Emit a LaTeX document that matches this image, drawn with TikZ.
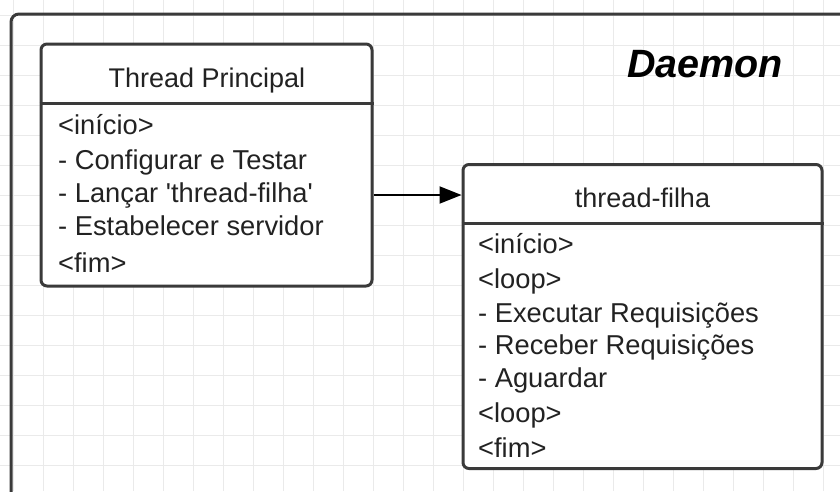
\documentclass[tikz,border=0pt]{standalone}
\usepackage{fontspec}
\setmainfont{Liberation Sans}
\usetikzlibrary{arrows.meta}
\definecolor{gridgray}{HTML}{EAEAEA}
\definecolor{edgegray}{HTML}{3A3A3A}
\definecolor{inkgray}{HTML}{222222}
\tikzset{
  classbox/.style={draw=edgegray, line width=3pt, rounded corners=6pt, fill=white, inner sep=0pt},
  divider/.style={draw=edgegray, line width=3pt},
  boxtitle/.style={font=\fontsize{27}{31}\selectfont, text=inkgray, anchor=base, inner sep=0pt},
  boxline/.style={font=\fontsize{27.3}{31}\selectfont, text=inkgray, anchor=base west, inner sep=0pt},
  link/.style={draw=black, line width=2pt, -{Triangle[length=22pt, width=17pt]}},
}
\begin{document}
\begin{tikzpicture}[x=1pt, y=-1pt]
\useasboundingbox (0,0) rectangle (840,491);
\fill[white] (0,0) rectangle (840,491);
% background grid
\begin{scope}
  \clip (0,0) rectangle (840,491);
  \foreach \gx in {13,43,...,833} \draw[gridgray, line width=1pt] (\gx,0) -- (\gx,491);
  \foreach \gy in {15,45,...,485} \draw[gridgray, line width=1pt] (0,\gy) -- (840,\gy);
  % daemon frame, running off the right and bottom
  \draw[edgegray, line width=3pt, rounded corners=8pt] (11,14) rectangle (870,530);
\end{scope}
\node[font=\bfseries\itshape\fontsize{39.5}{45}\selectfont, anchor=base west, inner sep=0pt] (daemon) at (627,77) {Daemon};

% Thread Principal
\node[classbox, minimum width=331pt, minimum height=242pt] (main) at (206.5,165) {};
\draw[divider] (main.west |- 0,103) -- (main.east |- 0,103);
\node[boxtitle] (maint) at (207,87) {Thread Principal};
\node[boxline] (m1) at (58,134) {<início>};
\node[boxline] (m2) at (58,169) {- Configurar e Testar};
\node[boxline] (m3) at (58,202) {- Lançar \textquotesingle thread-filha\textquotesingle};
\node[boxline] (m4) at (58,235) {- Estabelecer servidor};
\node[boxline] (m5) at (58,272) {<fim>};

% thread-filha
\node[classbox, minimum width=359pt, minimum height=304pt] (child) at (642.5,316.5) {};
\draw[divider] (child.west |- 0,223) -- (child.east |- 0,223);
\node[boxtitle] (childt) at (642.5,207) {thread-filha};
\node[boxline] (c1) at (478,253) {<início>};
\node[boxline] (c2) at (478,288) {<loop>};
\node[boxline] (c3) at (478,322) {- Executar Requisições};
\node[boxline] (c4) at (478,354) {- Receber Requisições};
\node[boxline] (c5) at (478,387) {- Aguardar};
\node[boxline] (c6) at (478,422) {<loop>};
\node[boxline] (c7) at (478,457) {<fim>};

% launch arrow
\coordinate (ay) at (0,195);
\draw[link] (main.east |- ay) -- (child.west |- ay);
\end{tikzpicture}
\end{document}
